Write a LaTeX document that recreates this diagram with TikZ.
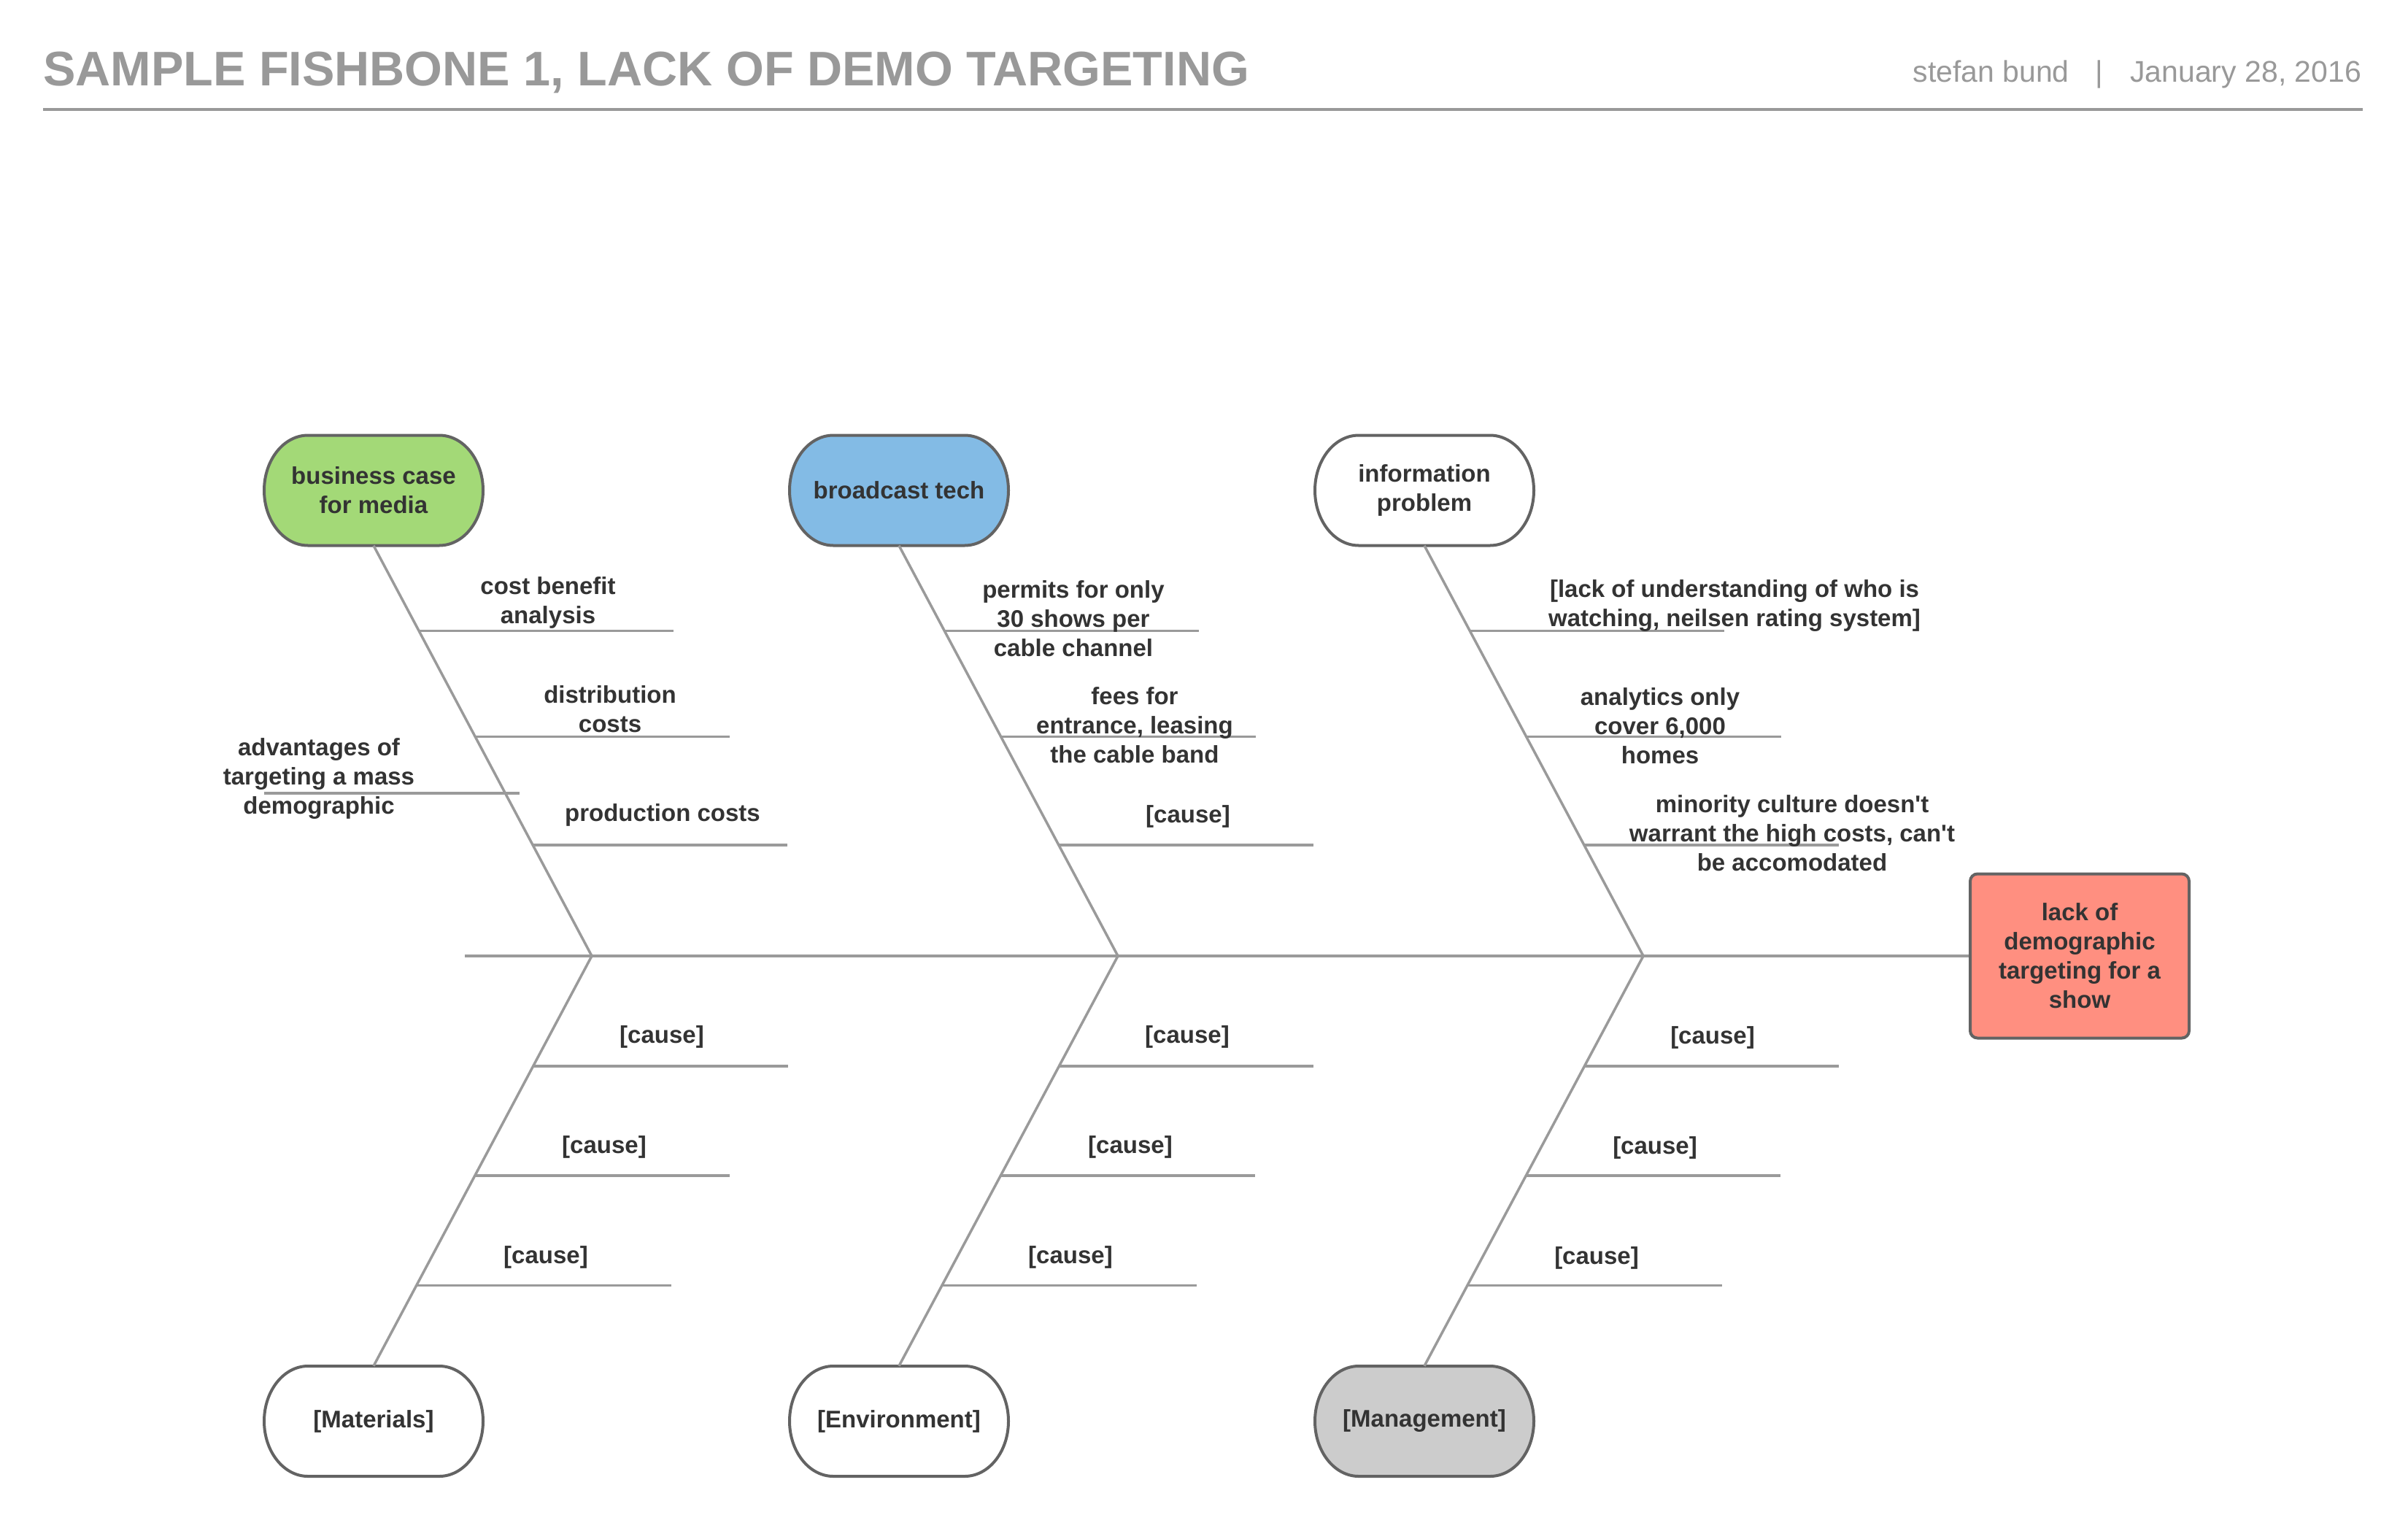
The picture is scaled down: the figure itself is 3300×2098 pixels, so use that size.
\documentclass[tikz,border=0pt]{standalone}
\usepackage{fontspec}
\setmainfont{Liberation Sans}
\usetikzlibrary{calc}
\definecolor{bonegray}{HTML}{9A9A9A}
\definecolor{bordergray}{HTML}{636363}
\definecolor{txtgray}{HTML}{333333}
\definecolor{titlegray}{HTML}{999999}
\definecolor{greenfill}{HTML}{A3D977}
\definecolor{bluefill}{HTML}{83BBE5}
\definecolor{grayfill}{HTML}{CCCCCC}
\definecolor{redfill}{HTML}{FF8F80}
\newcommand\lblfont{\bfseries\fontsize{33}{40}\selectfont}
% #1 name, #2 cx, #3 cy, #4 fill, #5 text
\newcommand\fishcap[5]{%
  \draw[boxline,fill=#4] ({#2-90},{#3-75.5}) -- ({#2+90},{#3-75.5})
    arc[start angle=-90,end angle=90,x radius=60,y radius=75.5]
    -- ({#2-90},{#3+75.5})
    arc[start angle=90,end angle=270,x radius=60,y radius=75.5] -- cycle;
  \node[captext] (#1) at (#2,#3) {#5};}
\begin{document}
\begin{tikzpicture}[x=1pt,y=-1pt,
  bone/.style={draw=bonegray,line width=3.5pt},
  boxline/.style={draw=bordergray,line width=4pt},
  lbl/.style={font=\lblfont,text=txtgray,align=center,inner sep=0pt},
  captext/.style={lbl,minimum width=300pt,minimum height=151pt},
  hdr/.style={inner sep=0pt,text=titlegray,font=\fontsize{41}{49}\selectfont}]
\useasboundingbox (0,0) rectangle (3300,2098);

% header
\node[anchor=base west,inner sep=0pt,text=titlegray,font=\bfseries\fontsize{66.6}{80}\selectfont] (title) at (59,118) {SAMPLE FISHBONE 1, LACK OF DEMO TARGETING};
\node[hdr,anchor=base east] (author) at (2836,113) {stefan bund};
\node[hdr,anchor=base] (bar) at (2877,113) {|};
\node[hdr,anchor=base west] (date) at (2919,113) {January 28, 2016};
\coordinate (hl) at (59,150);
\coordinate (hr) at (3238,150);
\draw[draw=titlegray,line width=4pt] (hl) -- (hr);

% category boxes
\fishcap{bus}{512}{672}{greenfill}{business case\\for media}
\fishcap{brd}{1232}{672}{bluefill}{broadcast tech}
\fishcap{inf}{1952}{672}{white}{information\\problem}
\fishcap{mat}{512}{1947.5}{white}{[Materials]}
\fishcap{env}{1232}{1947.5}{white}{[Environment]}
\fishcap{mgt}{1952}{1947.5}{grayfill}{[Management]}

% effect
\node[lbl,draw=bordergray,line width=4pt,fill=redfill,rounded corners=10pt,
  minimum width=300pt,minimum height=225pt] (eff) at (2850,1310)
  {lack of\\demographic\\targeting for a\\show};

% spine and junctions
\coordinate (sL) at (637,1310);
\coordinate (j1) at (811,1310);
\coordinate (j2) at (1532,1310);
\coordinate (j3) at (2252,1310);
\draw[bone] (sL) -- (eff.west);

\foreach \bx/\jn in {bus/j1,brd/j2,inf/j3}{
  \draw[bone] (\bx.south) -- (\jn);
  \coordinate (\bx-1) at ($(\bx.south)!0.208!(\jn)$);
  \coordinate (\bx-2) at ($(\bx.south)!0.466!(\jn)$);
  \coordinate (\bx-3) at ($(\bx.south)!0.7295!(\jn)$);
  \draw[bone] (\bx-1) -- ++(349,0);
  \draw[bone] (\bx-2) -- ++(349,0);
  \draw[bone] (\bx-3) -- ++(349,0);
}
\foreach \bx/\jn in {mat/j1,env/j2,mgt/j3}{
  \draw[bone] (\bx.north) -- (\jn);
  \coordinate (\bx-1) at ($(\jn)!0.2687!(\bx.north)$);
  \coordinate (\bx-2) at ($(\jn)!0.5356!(\bx.north)$);
  \coordinate (\bx-3) at ($(\jn)!0.804!(\bx.north)$);
  \draw[bone] (\bx-1) -- ++(349,0);
  \draw[bone] (\bx-2) -- ++(349,0);
  \draw[bone] (\bx-3) -- ++(349,0);
}
% extra left branch on business case bone
\coordinate (advl) at (362,1087);
\coordinate (advr) at (712,1087);
\draw[bone] (advl) -- (advr);

% labels, top
\node[lbl] (t1) at (751,826) {cost benefit\\analysis};
\node[lbl] (t2) at (836,972) {distribution\\costs};
\node[lbl] (t3) at (437,1067) {advantages of\\targeting a mass\\demographic};
\node[lbl] (t4) at (908,1117) {production costs};
\node[lbl] (t5) at (1471,848) {permits for only\\30 shows per\\cable channel};
\node[lbl] (t6) at (1555,994) {fees for\\entrance, leasing\\the cable band};
\node[lbl] (t7) at (1628,1119) {[cause]};
\node[lbl] (t8) at (2377,830) {[lack of understanding of who is\\watching, neilsen rating system]};
\node[lbl] (t9) at (2275,995) {analytics only\\cover 6,000\\homes};
\node[lbl] (t10) at (2456,1142) {minority culture doesn\textquotesingle t\\warrant the high costs, can\textquotesingle t\\be accomodated};

% labels, bottom
\node[lbl] (b1) at (907,1421) {[cause]};
\node[lbl] (b2) at (828,1572) {[cause]};
\node[lbl] (b3) at (748,1723) {[cause]};
\node[lbl] (b4) at (1627,1421) {[cause]};
\node[lbl] (b5) at (1549,1572) {[cause]};
\node[lbl] (b6) at (1467,1723) {[cause]};
\node[lbl] (b7) at (2347,1422) {[cause]};
\node[lbl] (b8) at (2268,1573) {[cause]};
\node[lbl] (b9) at (2188,1724) {[cause]};
\end{tikzpicture}
\end{document}
